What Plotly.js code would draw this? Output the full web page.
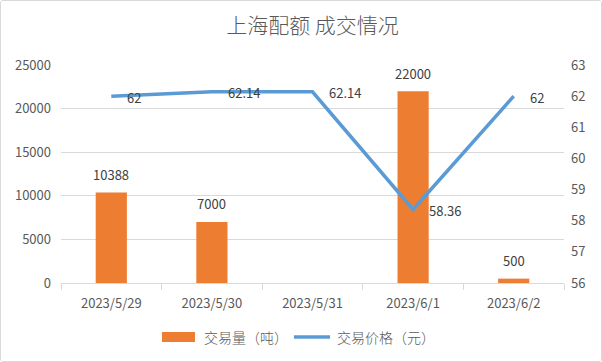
<!DOCTYPE html>
<html>
<head>
<meta charset="utf-8">
<script src="https://cdn.plot.ly/plotly-3.0.1.min.js"></script>
<style>
html,body{margin:0;padding:0;background:#fff;}
#chart{width:602px;height:362px;box-sizing:border-box;border:1px solid #d9d9d9;border-radius:3px;overflow:hidden;}
</style>
</head>
<body>
<div id="chart"></div>
<script>
const categories = ['2023/5/29','2023/5/30','2023/5/31','2023/6/1','2023/6/2'];
const volume = [10388, 7000, null, 22000, 500];
const price = [62, 62.14, 62.14, 58.36, 62];
const priceLabels = ['62','62.14','62.14','58.36','62'];
const volumeName = '交易量（吨）';
const priceName = '交易价格（元）';
const titleText = '上海配额 成交情况';

const FONT = '"Noto Sans CJK SC", "Noto Sans", sans-serif';
const ORANGE = '#ED7D31';
const BLUE = '#5B9BD5';

const traces = [
  {type:'bar', x:categories, y:volume, name:volumeName, marker:{color:ORANGE}, width:0.31, yaxis:'y', hoverinfo:'none'},
  {type:'scatter', mode:'lines', x:categories, y:price, name:priceName, line:{color:BLUE, width:3.5}, yaxis:'y2', hoverinfo:'none'}
];

const annotations = [];
categories.forEach((c,i)=>{
  if (volume[i] !== null) {
    annotations.push({x:c, y:volume[i], xref:'x', yref:'y', text:String(volume[i]), showarrow:false,
      yanchor:'middle', xanchor:'center', yshift:18, font:{family:FONT, size:13, color:'#404040'}});
  }
  annotations.push({x:c, y:price[i], xref:'x', yref:'y2', text:priceLabels[i], showarrow:false,
    yanchor:'middle', xanchor:'left', xshift:14, yshift:-1, font:{family:FONT, size:13, color:'#404040'}});
});
// legend texts
annotations.push({x:0.2803, y:-0.2477, xref:'paper', yref:'paper', text:volumeName, showarrow:false, xanchor:'left', yanchor:'middle', font:{family:FONT, size:14, color:'#595959', weight:300}});
annotations.push({x:0.5447, y:-0.2477, xref:'paper', yref:'paper', text:priceName, showarrow:false, xanchor:'left', yanchor:'middle', font:{family:FONT, size:14, color:'#595959', weight:300}});

const shapes = [
  {type:'rect', xref:'paper', yref:'paper', x0:0.2008, x1:0.2664, y0:-0.2706, y1:-0.2248, fillcolor:ORANGE, line:{width:0}},
  {type:'line', xref:'paper', yref:'paper', x0:0.4632, x1:0.5348, y0:-0.2477, y1:-0.2477, line:{color:BLUE, width:3.5}}
];

const layout = {
  width:600, height:360,
  margin:{l:60, r:37, t:64, b:78, pad:0},
  paper_bgcolor:'#ffffff', plot_bgcolor:'#ffffff',
  showlegend:false,
  title:{text:titleText, x:0.5, xref:'paper', xanchor:'center', y:1-25/360, yref:'container', yanchor:'middle',
    font:{family:FONT, size:21, color:'#595959', weight:300}},
  font:{family:FONT, size:13, color:'#595959'},
  xaxis:{type:'category', showgrid:false, showline:true, linecolor:'#d9d9d9', linewidth:1,
    ticks:'outside', tickson:'boundaries', ticklen:6, tickcolor:'#d9d9d9', ticklabelstandoff:8,
    tickfont:{family:FONT, size:13, color:'#595959'}, fixedrange:true},
  yaxis:{range:[0,25000], dtick:5000, showgrid:true, gridcolor:'#d9d9d9', gridwidth:1, zeroline:false,
    showline:false, ticks:'', ticklabelstandoff:9, tickformat:'d', tickfont:{family:FONT, size:13, color:'#595959'}},
  yaxis2:{range:[56,63], dtick:1, overlaying:'y', side:'right', showgrid:false, zeroline:false, showline:false,
    ticks:'', ticklabelstandoff:6, tickfont:{family:FONT, size:13, color:'#595959'}},
  annotations:annotations,
  shapes:shapes,
  bargap:0.69
};

Plotly.newPlot('chart', traces, layout, {staticPlot:true, displayModeBar:false});
</script>
</body>
</html>
